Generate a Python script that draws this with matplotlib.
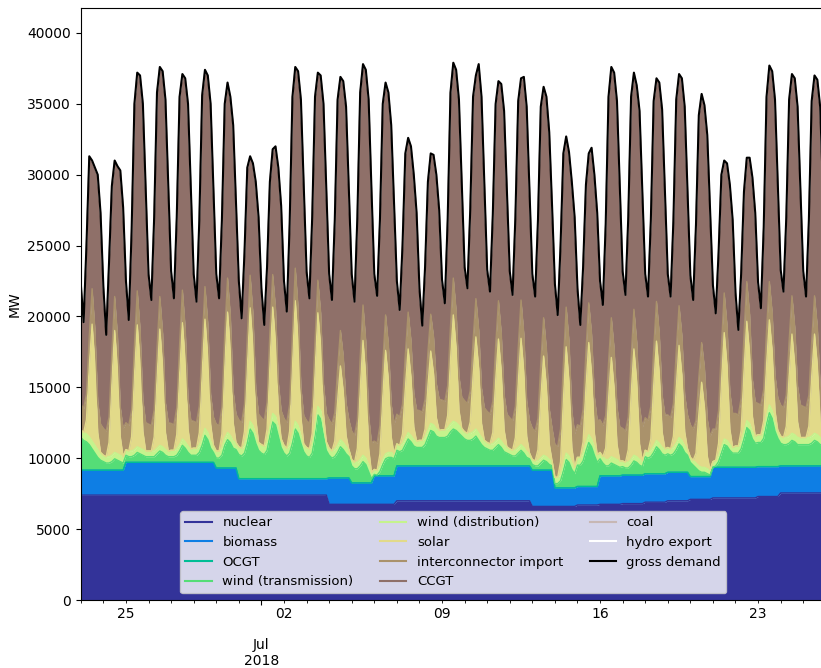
import numpy as np
import pandas as pd
import matplotlib
matplotlib.use('Agg')
import matplotlib.pyplot as plt
import matplotlib.dates as mdates
from matplotlib.lines import Line2D
from matplotlib.ticker import FuncFormatter

# 3-hourly samples (00,03,...,21h), one row per day from 23 Jun 2018
gross_demand = [
    [22300, 19600, 25000, 31300, 31000, 30500, 30000, 27300],  # Sat 23
    [22100, 18700, 23800, 29200, 31000, 30600, 30300, 27700],
    [22500, 19750, 26000, 35000, 37200, 37000, 35000, 29000],
    [23000, 21160, 27000, 35800, 37600, 37300, 35300, 29200],
    [23200, 21280, 27000, 35500, 37100, 36800, 35000, 29000],
    [23000, 21040, 26800, 35600, 37400, 37000, 35000, 29000],
    [23000, 21280, 26800, 35000, 36500, 35500, 33500, 28000],
    [22500, 19870, 24500, 30500, 31300, 30800, 29500, 27000],
    [22000, 19400, 23500, 29500, 31800, 32000, 30500, 27800],  # Sun 1 Jul
    [22500, 20340, 26500, 35500, 37600, 37300, 35300, 29200],
    [23200, 21280, 27000, 35500, 37200, 37000, 35000, 29000],
    [23000, 21160, 26800, 35300, 36900, 36600, 34800, 28800],
    [23000, 21040, 27000, 35800, 37800, 37400, 35300, 29000],
    [23000, 21450, 26800, 35000, 36500, 35800, 33500, 28000],
    [22500, 20460, 25000, 31500, 32600, 32000, 30000, 27300],
    [22000, 19350, 23500, 29500, 31500, 31400, 30000, 27500],
    [22600, 20930, 26800, 35800, 37900, 37400, 35300, 29300],  # Mon 9
    [23500, 21990, 27500, 35500, 37000, 37800, 35500, 29500],
    [23300, 21750, 27200, 35000, 36600, 36400, 34500, 28800],
    [23200, 21520, 27000, 35200, 36800, 36900, 34800, 28800],
    [23000, 21400, 26800, 34800, 36200, 35500, 33000, 27800],
    [22300, 20100, 25000, 31500, 32700, 31600, 29500, 27000],
    [22000, 19400, 23500, 29300, 31500, 31900, 30000, 27300],
    [22500, 20810, 26500, 35500, 37600, 37200, 35200, 29200],  # Mon 16
    [23200, 21520, 27000, 35500, 37200, 36300, 34500, 28800],
    [23000, 21400, 26800, 35200, 36800, 36500, 34600, 28800],
    [23000, 21400, 26800, 35300, 37100, 36800, 34800, 28900],
    [22900, 21160, 26500, 34200, 35700, 34900, 32800, 27500],
    [22200, 20220, 24500, 30000, 31000, 30800, 29300, 26800],
    [21700, 19050, 23000, 28800, 31200, 31200, 29800, 27300],
    [22400, 20580, 26300, 35500, 37700, 37300, 35300, 29300],  # Mon 23
    [23300, 21750, 27000, 35300, 37100, 36800, 34800, 29000],
    [23200, 21400, 26800, 35200, 37000, 36700, 34800, 29000],
]

solar = [
    [0, 0, 1000, 5000, 8250, 5800, 1200, 0],
    [0, 0, 1000, 5200, 8600, 6000, 1300, 0],
    [0, 0, 1000, 5200, 8600, 6000, 1300, 0],
    [0, 0, 1000, 4900, 8200, 5700, 1200, 0],
    [0, 0, 1000, 4900, 8200, 5700, 1200, 0],
    [0, 0, 900, 4600, 7700, 5400, 1200, 0],
    [0, 0, 1000, 5100, 8500, 6000, 1300, 0],
    [0, 0, 1000, 4800, 8000, 5600, 1200, 0],
    [0, 0, 900, 4500, 7500, 5300, 1100, 0],
    [0, 0, 1000, 5100, 8500, 6000, 1300, 0],
    [0, 0, 800, 4000, 6600, 4600, 1000, 0],
    [0, 0, 600, 3100, 5200, 3600, 800, 0],
    [0, 0, 1000, 4900, 8100, 5700, 1200, 0],
    [0, 0, 900, 4400, 7300, 5100, 1100, 0],
    [0, 0, 700, 3500, 5900, 4100, 900, 0],
    [0, 0, 600, 3100, 5100, 3600, 800, 0],
    [0, 0, 900, 4500, 7500, 5300, 1100, 0],
    [0, 0, 800, 3900, 6500, 4600, 1000, 0],
    [0, 0, 800, 4200, 7000, 4900, 1100, 0],
    [0, 0, 900, 4500, 7500, 5300, 1100, 0],
    [0, 0, 800, 4200, 7000, 4900, 1100, 0],
    [0, 0, 900, 4500, 7500, 5300, 1100, 0],
    [0, 0, 800, 3900, 6500, 4600, 1000, 0],
    [0, 0, 800, 4200, 7000, 4900, 1100, 0],
    [0, 0, 900, 4500, 7500, 5300, 1100, 0],
    [0, 0, 800, 4200, 7000, 4900, 1100, 0],
    [0, 0, 800, 3900, 6500, 4600, 1000, 0],
    [0, 0, 700, 3600, 6000, 4200, 900, 0],
    [0, 0, 900, 4500, 7500, 5300, 1100, 0],
    [0, 0, 800, 4200, 7000, 4900, 1100, 0],
    [0, 0, 700, 3600, 6000, 4200, 900, 0],
    [0, 0, 800, 4200, 7000, 4900, 1100, 0],
    [0, 0, 800, 4200, 7000, 4900, 1100, 0],
]

wind_transmission = [
    [2300, 2100, 2000, 1800, 1500, 1200, 900, 700],
    [600, 500, 500, 600, 800, 700, 600, 500],
    [500, 400, 400, 500, 700, 600, 500, 400],
    [400, 400, 400, 600, 800, 700, 500, 400],
    [400, 400, 500, 800, 1200, 1000, 700, 500],
    [500, 500, 700, 1200, 1900, 1600, 1000, 700],
    [700, 700, 900, 1600, 2000, 1800, 1400, 1300],
    [1700, 1600, 1800, 2500, 3500, 3200, 2500, 2000],
    [1800, 1700, 2000, 3000, 4000, 3800, 3000, 2200],
    [1800, 1600, 1800, 2500, 3500, 3200, 2500, 1900],
    [1600, 1500, 1800, 3000, 4500, 4200, 3000, 2000],
    [1600, 1400, 1500, 1800, 2200, 2000, 1700, 1500],
    [1200, 1000, 1000, 1200, 1500, 1300, 800, 300],
    [100, 50, 300, 800, 1200, 1300, 1300, 1200],
    [1100, 1000, 1100, 1500, 1900, 1700, 1400, 1300],
    [1300, 1300, 1500, 2000, 2500, 2400, 2100, 2000],
    [2000, 2000, 2100, 2400, 2600, 2500, 2300, 2100],
    [1900, 1800, 1800, 1900, 2100, 1800, 1500, 1300],
    [1200, 1100, 1100, 1300, 1500, 1300, 1000, 900],
    [800, 700, 700, 900, 1100, 900, 600, 500],
    [400, 300, 300, 500, 700, 600, 400, 300],
    [300, 300, 500, 1200, 2000, 1800, 1300, 1000],
    [1500, 1500, 1800, 2500, 3100, 2800, 2200, 1700],
    [1200, 900, 700, 700, 900, 800, 700, 600],
    [600, 500, 500, 700, 1000, 900, 700, 600],
    [1200, 1100, 1200, 1500, 1900, 1700, 1400, 1300],
    [1300, 1200, 1300, 1600, 2000, 1800, 1400, 1200],
    [1000, 800, 600, 400, 300, 300, 200, 100],
    [0, 100, 400, 1000, 1600, 1500, 1200, 1000],
    [1000, 1000, 1300, 2000, 2800, 2600, 2000, 1700],
    [1700, 1700, 2000, 3000, 3800, 3400, 2500, 2000],
    [1600, 1500, 1500, 1600, 1800, 1700, 1500, 1500],
    [1500, 1500, 1500, 1600, 1800, 1700, 1500, 1500],
]

interconnector = [
    [1800, 1700, 1800, 2100, 2500, 2400, 2200, 2000],
    [1900, 1800, 1800, 2000, 2400, 2300, 2100, 2000],
    [1900, 1800, 1900, 2100, 2400, 2400, 2200, 2000],
    [1900, 1800, 1900, 2100, 2300, 2300, 2100, 2000],
    [1900, 1800, 1900, 2100, 2300, 2300, 2100, 2000],
    [1900, 1800, 1900, 2100, 2300, 2300, 2100, 2000],
    [1900, 1800, 1900, 2200, 2400, 2400, 2200, 2000],
    [1900, 1800, 1900, 2200, 2300, 2300, 2100, 2000],
    [1900, 1800, 1900, 2200, 2300, 2300, 2100, 2000],
    [1900, 1800, 1900, 2100, 2300, 2300, 2100, 2000],
    [1900, 1800, 1900, 2100, 2300, 2300, 2100, 2000],
    [2000, 1900, 2000, 2300, 2500, 2500, 2300, 2100],
    [2000, 1900, 2000, 2300, 2500, 2500, 2300, 2100],
    [2000, 1900, 2000, 2300, 2500, 2500, 2300, 2100],
    [2100, 2000, 2100, 2400, 2600, 2600, 2400, 2200],
    [2100, 2000, 2100, 2400, 2600, 2600, 2400, 2200],
    [2100, 2000, 2100, 2400, 2600, 2600, 2400, 2200],
    [2200, 2100, 2200, 2500, 2700, 2700, 2500, 2300],
    [2200, 2100, 2200, 2500, 2700, 2700, 2500, 2300],
    [2200, 2100, 2200, 2500, 2700, 2700, 2500, 2300],
    [2200, 2100, 2200, 2500, 2700, 2700, 2500, 2300],
    [2300, 2200, 2300, 2600, 2800, 2800, 2600, 2400],
    [2300, 2200, 2300, 2600, 2800, 2800, 2600, 2400],
    [2300, 2200, 2300, 2600, 2800, 2800, 2600, 2400],
    [2300, 2200, 2300, 2600, 2800, 2800, 2600, 2400],
    [2300, 2200, 2300, 2600, 2800, 2800, 2600, 2400],
    [2300, 2200, 2300, 2600, 2800, 2800, 2600, 2400],
    [2300, 2200, 2300, 2600, 2800, 2800, 2600, 2400],
    [2300, 2200, 2300, 2600, 2800, 2800, 2600, 2400],
    [2300, 2200, 2300, 2600, 2800, 2800, 2600, 2400],
    [2200, 2100, 2200, 2500, 2700, 2700, 2500, 2300],
    [2200, 2100, 2200, 2500, 2700, 2700, 2500, 2300],
    [2200, 2100, 2200, 2500, 2700, 2700, 2500, 2300],
]

# daily values (MW), 23 Jun .. 25 Jul
nuclear = [7400, 7400, 7400, 7400, 7400, 7400, 7400, 7400, 7400, 7400, 7400,
           6750, 6750, 6750, 7000, 7000, 7000, 7000, 7000, 7000, 6600, 6600,
           6700, 6750, 6800, 6900, 7000, 7100, 7200, 7200, 7300, 7550, 7550]
biomass = [1750, 1750, 2300, 2300, 2300, 2300, 1900, 1150, 1150, 1150, 1150,
           1850, 1500, 2000, 2450, 2450, 2450, 2450, 2450, 2450, 2550, 1300,
           1300, 2000, 2000, 2000, 2000, 1600, 2150, 2150, 2100, 1900, 1900]
ocgt = [10] * 33
wind_distribution = [550, 450, 400, 400, 450, 500, 500, 550, 600, 550, 600,
                     500, 450, 350, 450, 500, 550, 500, 450, 400, 350, 450,
                     550, 450, 400, 450, 450, 350, 400, 500, 550, 500, 500]
coal = [100] * 33
hydro_export = [0] * 33

times = pd.date_range('2018-06-23 00:00', periods=33 * 8, freq='3h')


def per_day(v):
    return np.repeat(np.asarray(v, dtype=float), 8)


def flat(rows):
    return np.asarray(rows, dtype=float).ravel()


demand = flat(gross_demand)
layers = {
    'nuclear': per_day(nuclear),
    'biomass': per_day(biomass),
    'OCGT': per_day(ocgt),
    'wind (transmission)': flat(wind_transmission),
    'wind (distribution)': per_day(wind_distribution),
    'solar': flat(solar),
    'interconnector import': flat(interconnector),
}
# CCGT is the balancing plant: whatever the other sources leave of the demand
rest = demand - sum(layers.values()) - per_day(coal) - per_day(hydro_export)
layers['CCGT'] = np.clip(rest, 0, None)
layers['coal'] = per_day(coal)
layers['hydro export'] = per_day(hydro_export)

colors = plt.cm.terrain(np.linspace(0, 1, len(layers)))

fig = plt.figure(figsize=(8.21, 6.68), dpi=100)
ax = fig.add_axes([80.8 / 821, 68 / 668, 745 / 821, 592 / 668])

bottom = np.zeros(len(times))
handles = []
for (name, vals), c in zip(layers.items(), colors):
    top = bottom + vals
    ax.fill_between(times, bottom, top, color=c, linewidth=0)
    ax.plot(times, top, color=c, lw=1)
    handles.append(Line2D([], [], color=c, lw=1.5, label=name))
    bottom = top

ax.plot(times, demand, color='black', lw=1.5)
handles.append(Line2D([], [], color='black', lw=1.5, label='gross demand'))

ax.set_xlim(pd.Timestamp('2018-06-23'), pd.Timestamp('2018-07-26'))
ax.set_ylim(0, 41760)
ax.set_ylabel('MW')

# month/year under the month start, day numbers on Mondays
ax.xaxis.set_major_locator(mdates.MonthLocator())
ax.xaxis.set_major_formatter(mdates.DateFormatter('%b\n%Y'))
ax.xaxis.set_minor_locator(mdates.DayLocator())
ax.tick_params(axis='x', which='major', pad=24)


def monday_label(x, pos):
    d = mdates.num2date(x)
    return d.strftime('%d') if d.weekday() == 0 else ''


ax.xaxis.set_minor_formatter(FuncFormatter(monday_label))

ax.legend(handles=handles, loc='lower center', ncol=3, fontsize=9.5)

fig.savefig('out.png', dpi=100)
